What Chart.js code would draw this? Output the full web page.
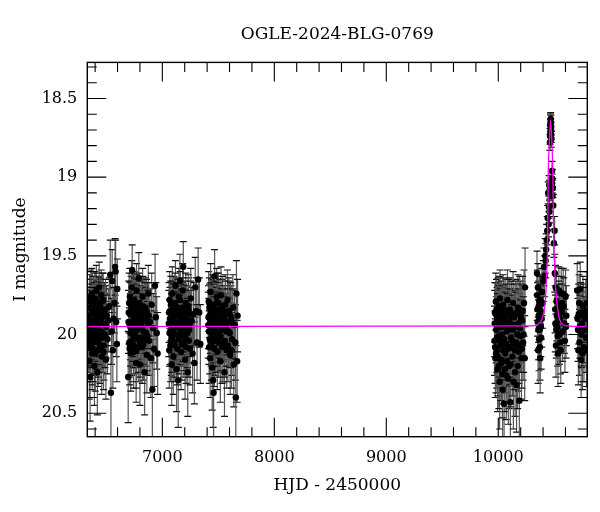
<!DOCTYPE html>
<html>
<head>
<meta charset="utf-8">
<title>OGLE-2024-BLG-0769</title>
<script src="https://cdn.jsdelivr.net/npm/chart.js@4.4.1/dist/chart.umd.min.js"></script>
<style>
  html, body { margin: 0; padding: 0; background: #fff; }
  #lc { display: block; }
</style>
</head>
<body>
<canvas id="lc" width="600" height="512"></canvas>
<script>
// [HJD-2450000, I mag, error]
const season2013 = [
  [6342,20.02,0.22],[6345,19.88,0.18],[6348,20.17,0.24],[6351,19.79,0.17],[6355,20.27,0.28],[6358,19.95,0.20],
  [6362,20.08,0.22],[6366,19.84,0.19],[6370,19.74,0.16],[6374,20.12,0.23],[6378,19.92,0.20],[6382,20.05,0.21],
  [6386,19.81,0.18],[6390,19.98,0.20],[6394,20.20,0.25],[6398,19.77,0.17],[6402,19.90,0.19],[6407,20.04,0.22],
  [6411,19.72,0.16],[6415,19.86,0.18],[6420,20.24,0.27],[6424,19.96,0.21],[6428,20.10,0.23],[6432,19.80,0.17],
  [6436,19.70,0.16],[6440,19.93,0.20],[6445,20.01,0.21],[6450,19.83,0.18],[6454,19.75,0.16],[6459,20.14,0.24],
  [6463,19.89,0.19],[6468,19.99,0.21],[6472,19.78,0.17],[6478,20.07,0.22],[6484,19.85,0.18],[6490,19.94,0.20],
  [6496,20.16,0.25],[6502,19.88,0.19],[6510,20.03,0.22],[6518,19.91,0.20],[6526,19.82,0.18],[6535,19.62,0.22],
  [6541,20.37,0.30],[6546,19.98,0.21],[6552,19.66,0.20],[6558,20.10,0.24],[6565,19.90,0.20],[6572,19.80,0.19],
  [6578,19.57,0.18],[6583,19.60,0.20],[6588,19.92,0.22],[6594,20.06,0.24],[6598,19.71,0.19],
  [6344,19.97,0.20],[6349,19.83,0.18],[6353,20.06,0.22],[6357,19.91,0.19],[6361,19.76,0.17],[6365,20.00,0.21],
  [6369,19.87,0.19],[6373,19.95,0.20],[6377,20.09,0.23],[6381,19.81,0.18],[6385,19.93,0.20],[6389,20.03,0.22],
  [6393,19.86,0.19],[6397,19.96,0.20],[6401,20.12,0.24],[6405,19.78,0.17],[6409,19.92,0.20],[6413,20.01,0.21],
  [6417,19.84,0.18],[6422,19.97,0.20],[6426,19.89,0.19],[6430,20.05,0.22],[6434,19.94,0.20],[6438,19.82,0.18],
  [6443,20.08,0.23],[6447,19.90,0.19],[6452,19.98,0.21],[6457,19.86,0.19],[6461,20.02,0.22],[6466,19.79,0.18],
  [6470,19.93,0.20],[6475,20.11,0.24],[6481,19.88,0.19],[6487,20.00,0.21],[6493,19.84,0.19],[6499,19.95,0.20]
]
const season2014 = [
  [6695,20.27,0.29],[6700,19.86,0.20],[6705,20.05,0.22],[6710,19.76,0.18],[6714,19.95,0.21],[6718,20.12,0.24],
  [6722,19.82,0.19],[6727,19.70,0.17],[6731,19.59,0.16],[6735,20.00,0.21],[6739,19.88,0.20],[6744,20.11,0.23],
  [6748,19.78,0.18],[6752,19.93,0.20],[6757,20.03,0.22],[6761,19.84,0.19],[6766,20.18,0.25],[6770,19.72,0.17],
  [6775,19.97,0.21],[6780,19.90,0.20],[6785,20.08,0.22],[6790,19.64,0.16],[6795,19.80,0.19],[6800,20.19,0.26],
  [6806,19.94,0.21],[6812,20.02,0.22],[6818,19.85,0.19],[6824,19.76,0.18],[6830,20.06,0.23],[6836,19.91,0.20],
  [6842,20.24,0.27],[6848,19.83,0.19],[6855,19.99,0.21],[6862,20.13,0.24],[6868,19.87,0.20],[6875,19.74,0.18],
  [6882,20.04,0.22],[6890,19.92,0.21],[6898,20.15,0.25],[6905,19.81,0.20],[6911,20.35,0.32],[6918,19.96,0.22],
  [6926,20.09,0.24],[6935,19.69,0.20],[6942,19.89,0.22],[6950,19.99,0.23],[6958,20.12,0.26],
  [6698,19.92,0.20],[6703,19.80,0.19],[6708,20.09,0.23],[6712,19.87,0.20],[6716,19.99,0.21],[6720,19.85,0.19],
  [6725,20.04,0.22],[6729,19.93,0.20],[6733,19.79,0.18],[6737,19.96,0.21],[6742,20.07,0.23],[6746,19.90,0.20],
  [6750,19.83,0.19],[6755,20.00,0.21],[6759,19.94,0.20],[6764,19.81,0.19],[6768,20.10,0.24],[6773,19.88,0.20],
  [6778,19.97,0.21],[6783,19.84,0.19],[6788,20.02,0.22],[6793,19.92,0.20],[6798,19.86,0.20],[6803,20.05,0.22],
  [6809,19.89,0.20],[6815,19.95,0.21],[6821,20.08,0.23],[6827,19.82,0.19],[6833,19.98,0.21],[6839,19.87,0.20],
  [6845,20.03,0.22],[6852,19.91,0.21],[6859,19.85,0.20],[6866,20.01,0.22],[6872,19.93,0.21],[6879,19.88,0.21]
]
const season2015 = [
  [7058,19.93,0.21],[7062,20.10,0.24],[7066,19.78,0.18],[7070,19.98,0.21],[7075,19.85,0.19],[7080,20.04,0.22],
  [7084,20.19,0.26],[7089,19.74,0.17],[7093,19.90,0.20],[7098,20.14,0.24],[7102,19.81,0.18],[7107,19.96,0.21],
  [7112,20.07,0.23],[7117,19.69,0.16],[7122,19.88,0.20],[7127,20.22,0.27],[7132,19.83,0.19],[7137,19.95,0.21],
  [7142,20.29,0.30],[7147,19.76,0.18],[7152,20.01,0.22],[7157,19.66,0.17],[7162,19.92,0.20],[7167,20.11,0.24],
  [7172,19.86,0.19],[7177,19.99,0.21],[7182,19.72,0.17],[7187,19.57,0.16],[7192,20.05,0.22],[7197,19.89,0.20],
  [7203,20.16,0.25],[7209,19.80,0.19],[7215,20.03,0.22],[7221,19.94,0.21],[7227,20.24,0.28],[7234,19.84,0.20],
  [7240,19.97,0.21],[7247,20.09,0.23],[7254,19.77,0.19],[7262,19.91,0.21],[7270,20.12,0.25],[7278,19.87,0.20],
  [7286,20.18,0.26],[7294,19.70,0.19],[7302,19.85,0.21],[7310,20.05,0.24],[7320,19.65,0.20],[7330,19.86,0.22],
  [7340,20.06,0.25],
  [7060,19.86,0.19],[7064,19.99,0.21],[7068,19.90,0.20],[7072,20.07,0.23],[7077,19.81,0.18],[7082,19.94,0.20],
  [7086,20.02,0.22],[7091,19.85,0.19],[7095,19.97,0.21],[7100,19.88,0.20],[7105,20.05,0.22],[7110,19.92,0.20],
  [7114,19.80,0.19],[7119,20.00,0.21],[7124,19.87,0.20],[7129,19.95,0.21],[7134,20.09,0.23],[7139,19.84,0.19],
  [7144,19.93,0.20],[7149,20.03,0.22],[7154,19.89,0.20],[7159,19.78,0.18],[7164,19.98,0.21],[7169,19.91,0.20],
  [7174,20.06,0.23],[7179,19.83,0.19],[7185,19.96,0.21],[7190,19.88,0.20],[7195,20.01,0.22],[7200,19.92,0.21],
  [7206,19.86,0.20],[7212,20.08,0.23],[7218,19.90,0.21],[7224,19.99,0.22],[7231,19.82,0.20],[7237,20.04,0.23],
  [7244,19.93,0.21],[7251,19.87,0.21]
]
const season2016 = [
  [7410,19.94,0.21],[7414,19.79,0.19],[7418,20.08,0.23],[7422,19.88,0.20],[7427,20.15,0.25],[7431,19.73,0.18],
  [7436,19.99,0.21],[7440,19.84,0.19],[7445,20.21,0.27],[7449,19.91,0.20],[7454,20.29,0.30],[7458,20.37,0.32],
  [7463,19.82,0.19],[7467,19.63,0.17],[7472,19.96,0.21],[7476,20.04,0.22],[7481,19.86,0.20],[7486,19.76,0.18],
  [7491,20.11,0.24],[7496,19.93,0.21],[7501,19.80,0.19],[7507,20.02,0.22],[7512,19.89,0.20],[7518,20.17,0.26],
  [7524,19.75,0.18],[7530,19.97,0.21],[7536,19.85,0.20],[7542,20.07,0.23],[7548,19.92,0.21],[7555,20.24,0.28],
  [7562,19.81,0.19],[7568,19.95,0.21],[7575,20.10,0.24],[7582,19.78,0.19],[7590,19.98,0.22],[7598,19.87,0.21],
  [7606,20.13,0.25],[7614,19.90,0.21],[7622,20.03,0.23],[7630,19.83,0.21],[7638,20.19,0.27],[7646,19.94,0.22],
  [7652,20.05,0.24],[7656,20.40,0.33],[7662,19.74,0.21],[7668,20.17,0.26],[7672,19.88,0.23],
  [7412,19.89,0.20],[7416,19.98,0.21],[7420,19.83,0.19],[7424,20.03,0.22],[7429,19.92,0.20],[7433,19.86,0.19],
  [7438,20.06,0.23],[7442,19.95,0.21],[7447,19.81,0.19],[7451,20.00,0.21],[7456,19.88,0.20],[7461,19.97,0.21],
  [7465,20.09,0.24],[7470,19.85,0.19],[7474,19.93,0.20],[7479,20.02,0.22],[7484,19.90,0.20],[7489,19.80,0.19],
  [7494,19.99,0.21],[7499,19.87,0.20],[7504,20.05,0.22],[7510,19.94,0.21],[7515,19.84,0.19],[7521,20.01,0.22],
  [7527,19.91,0.20],[7533,20.08,0.23],[7539,19.82,0.19],[7545,19.96,0.21],[7551,19.89,0.20],[7558,20.04,0.23],
  [7565,19.86,0.20],[7572,19.98,0.22],[7579,19.92,0.21],[7586,20.07,0.23],[7594,19.85,0.21],[7602,19.99,0.22],
  [7610,19.88,0.21],[7618,20.10,0.24],[7626,19.93,0.22]
]
const season2023 = [
  [9966,20.04,0.22],[9970,19.86,0.19],[9974,20.15,0.25],[9978,19.79,0.18],[9982,19.97,0.21],[9986,20.10,0.24],
  [9990,19.90,0.20],[9994,20.22,0.27],[9998,19.83,0.19],[10003,20.01,0.22],[10007,19.93,0.21],[10012,20.30,0.30],
  [10016,19.77,0.18],[10021,20.07,0.23],[10025,19.88,0.20],[10030,20.18,0.26],[10034,19.95,0.21],[10039,20.35,0.31],
  [10043,19.81,0.19],[10048,20.05,0.23],[10052,20.44,0.34],[10057,19.91,0.21],[10062,20.12,0.25],[10067,19.85,0.20],
  [10072,20.26,0.28],[10077,19.98,0.22],[10082,19.78,0.19],[10087,20.09,0.24],[10092,19.92,0.21],[10098,20.20,0.27],
  [10103,19.84,0.20],[10108,20.43,0.34],[10114,20.02,0.23],[10120,19.89,0.21],[10126,20.14,0.25],[10132,19.80,0.20],
  [10138,20.06,0.23],[10144,19.94,0.22],[10150,20.24,0.28],[10156,19.87,0.21],[10163,20.32,0.30],[10170,20.00,0.23],
  [10176,19.83,0.21],[10182,20.11,0.25],[10188,20.42,0.33],[10194,19.96,0.22],[10200,19.87,0.21],[10207,20.15,0.26],
  [10214,19.91,0.22],[10222,20.05,0.24],[10230,19.80,0.21],[10236,20.15,0.27],[10239,19.70,0.25],
  [9968,19.93,0.21],[9972,20.08,0.23],[9976,19.87,0.20],[9980,20.12,0.25],[9984,19.84,0.19],[9988,20.02,0.22],
  [9992,19.95,0.21],[9996,20.14,0.25],[10000,19.89,0.20],[10005,20.20,0.27],[10009,19.82,0.19],[10014,20.04,0.23],
  [10018,19.92,0.21],[10023,20.16,0.26],[10027,19.86,0.20],[10032,20.00,0.22],[10036,20.25,0.28],[10041,19.90,0.21],
  [10045,20.10,0.24],[10050,19.84,0.20],[10054,20.03,0.23],[10059,20.22,0.27],[10064,19.94,0.21],[10069,20.06,0.23],
  [10074,19.88,0.20],[10079,20.17,0.26],[10084,19.96,0.22],[10090,20.28,0.29],[10095,19.85,0.20],[10100,20.08,0.24],
  [10106,19.93,0.22],[10111,20.19,0.27],[10117,19.87,0.21],[10123,20.04,0.23],[10129,19.97,0.22],[10135,20.30,0.30],
  [10141,19.89,0.21],[10147,20.10,0.25],[10153,19.95,0.22],[10160,20.05,0.24],[10166,19.86,0.21],[10173,20.20,0.27],
  [10179,19.93,0.22],[10185,20.07,0.24],[10191,19.84,0.21],[10197,20.01,0.23],[10204,19.90,0.22],[10211,20.09,0.25],
  [10218,19.85,0.22],[10226,20.00,0.24]
]
const season2024 = [
  [10346,19.61,0.14],[10350,19.84,0.17],[10354,19.70,0.15],[10358,19.97,0.19],[10361,19.82,0.16],[10364,20.03,0.20],
  [10368,19.90,0.18],[10372,20.08,0.21],[10376,19.78,0.16],[10380,19.95,0.19],[10385,19.86,0.17],[10390,19.73,0.15],
  [10396,19.80,0.16],[10402,19.66,0.13],[10408,19.57,0.12],[10414,19.63,0.13],[10419,19.50,0.11],[10423,19.53,0.11],
  [10428,19.46,0.10],[10432,19.40,0.10],[10437,19.34,0.09],[10441,19.26,0.08],[10446,19.10,0.07],[10452,19.19,0.07],
  [10455,19.05,0.06],[10459,19.08,0.06],[10462,18.78,0.05],[10465,18.72,0.05],[10467,18.65,0.05],[10469,18.68,0.05],
  [10472,18.70,0.05],[10475,18.76,0.05],[10480,18.96,0.06],[10483,19.01,0.06],[10487,19.07,0.06],[10491,19.18,0.07],
  [10497,19.42,0.09],[10503,19.34,0.09],[10505,19.61,0.12],[10508,19.84,0.15],[10512,19.70,0.14],[10518,19.97,0.18],
  [10523,19.88,0.16],[10530,20.01,0.19],[10536,19.91,0.17],[10541,19.72,0.15],[10548,19.85,0.17],[10555,20.05,0.20],
  [10562,19.74,0.16],[10570,19.80,0.17],[10580,19.74,0.16],[10590,19.93,0.19],[10601,19.76,0.17],[10608,19.88,0.19],
  [10463,18.74,0.05],[10466,18.67,0.04],[10468,18.63,0.04],[10470,18.66,0.05],[10473,18.73,0.05],[10481,19.04,0.06],
  [10484,19.12,0.06],[10457,19.22,0.07],[10450,19.30,0.08],
  [10348,19.75,0.16],[10352,19.92,0.18],[10356,20.10,0.21],[10360,19.88,0.17],[10366,19.79,0.16],[10370,19.97,0.19],
  [10374,20.15,0.22],[10378,19.85,0.17],[10383,20.02,0.20],[10388,19.90,0.18],[10510,19.93,0.18],[10515,20.07,0.20],
  [10520,19.79,0.16],[10527,19.95,0.18],[10533,20.12,0.21],[10539,19.83,0.17],[10545,20.00,0.19],[10552,19.90,0.18],
  [10558,20.10,0.21],[10566,19.86,0.18],[10575,19.98,0.19],[10585,19.82,0.18],[10595,20.04,0.20],[10605,19.95,0.20]
]
const season2025 = [
  [10705,19.72,0.17],[10712,19.97,0.20],[10718,19.87,0.19],[10725,20.05,0.21],[10732,19.71,0.17],[10740,20.16,0.24],
  [10748,19.93,0.20],[10756,19.82,0.19],[10765,20.08,0.22],[10775,19.90,0.20],[10785,20.02,0.22],[10792,19.80,0.20],
  [10708,19.90,0.19],[10715,20.10,0.22],[10722,19.80,0.18],[10728,19.95,0.20],[10736,19.86,0.19],[10744,20.00,0.21],
  [10752,20.12,0.23],[10760,19.88,0.20],[10770,19.97,0.21],[10780,19.85,0.20],[10788,20.10,0.23]
]

// model curve
const modelHjd = [6330, 10300, 10378, 10408, 10423, 10432, 10440, 10446, 10455, 10467, 10480, 10488, 10495, 10503, 10512, 10527, 10557, 10615, 10795]
const modelMag = [19.95, 19.945, 19.92, 19.855, 19.76, 19.62, 19.45, 19.0, 18.8, 18.64, 18.8, 19.0, 19.4, 19.55, 19.7, 19.82, 19.92, 19.945, 19.95]

const xTicks = [7000, 8000, 9000, 10000]
const yTicks = [18.5, 19, 19.5, 20, 20.5]
const xRange = [6330, 10795]
const yRange = [18.271, 20.649]

const allPoints = [season2013, season2014, season2015, season2016, season2023, season2024, season2025].flat()

const serif = "'DejaVu Serif', 'Liberation Serif', serif"

// error bars, drawn under the points
const errorBars = {
    id: 'errorBars',
    beforeDatasetsDraw(chart) {
        const {ctx, chartArea: a, scales: {x, y}} = chart
        ctx.save()
        ctx.beginPath()
        ctx.rect(a.left, a.top, a.right - a.left, a.bottom - a.top)
        ctx.clip()
        allPoints.forEach(p => {
            const px = x.getPixelForValue(p[0])
            const y1 = y.getPixelForValue(p[1] - p[2])
            const y2 = y.getPixelForValue(p[1] + p[2])
            ctx.strokeStyle = '#555'
            ctx.lineWidth = 1.2
            ctx.beginPath()
            ctx.moveTo(px, y1)
            ctx.lineTo(px, y2)
            ctx.stroke()
            ctx.strokeStyle = '#111'
            ctx.beginPath()
            ctx.moveTo(px - 3.5, y1); ctx.lineTo(px + 3.5, y1)
            ctx.moveTo(px - 3.5, y2); ctx.lineTo(px + 3.5, y2)
            ctx.stroke()
        })
        ctx.restore()
    }
}

// box and inward ticks on all four sides
const frameTicks = {
    id: 'frameTicks',
    afterDraw(chart) {
        const {ctx, chartArea: a, scales: {x, y}} = chart
        ctx.save()
        ctx.strokeStyle = '#000'
        ctx.lineWidth = 1.4
        ctx.strokeRect(a.left, a.top, a.right - a.left, a.bottom - a.top)
        ctx.lineWidth = 1.1
        ctx.beginPath()
        for (let v = 6400; v <= 10800; v += 200) {
            const px = x.getPixelForValue(v)
            if (px < a.left || px > a.right) continue
            const len = v % 1000 === 0 ? 19 : 9.5
            ctx.moveTo(px, a.bottom); ctx.lineTo(px, a.bottom - len)
            ctx.moveTo(px, a.top); ctx.lineTo(px, a.top + len)
        }
        for (let k = 183; k <= 206; k++) {
            const py = y.getPixelForValue(k / 10)
            if (py < a.top || py > a.bottom) continue
            const len = k % 5 === 0 ? 19 : 9.5
            ctx.moveTo(a.left, py); ctx.lineTo(a.left + len, py)
            ctx.moveTo(a.right, py); ctx.lineTo(a.right - len, py)
        }
        ctx.stroke()
        ctx.restore()
    }
}

document.addEventListener('DOMContentLoaded', () => {
    new Chart(document.getElementById('lc'), {
        type: 'scatter',
        data: {
            datasets: [{
                type: 'line',
                label: 'model',
                data: modelHjd.map((t, i) => ({x: t, y: modelMag[i]})),
                borderColor: '#ff00ff',
                borderWidth: 1.3,
                pointRadius: 0,
                cubicInterpolationMode: 'monotone',
                order: 0,
            }, {
                label: 'OGLE',
                data: allPoints.map(p => ({x: p[0], y: p[1]})),
                backgroundColor: '#000',
                borderColor: '#000',
                pointRadius: 3.2,
                borderWidth: 0,
                order: 1,
            }]
        },
        options: {
            responsive: false,
            animation: false,
            layout: { padding: { left: 0, right: 12.7, top: 0, bottom: 0 } },
            plugins: {
                legend: { display: false },
                tooltip: { enabled: false },
                title: {
                    display: true,
                    fullSize: false,
                    text: 'OGLE-2024-BLG-0769',
                    color: '#000',
                    font: { family: serif, size: 17, weight: 'normal', lineHeight: 1.2 },
                    padding: { top: 24, bottom: 18 },
                },
            },
            scales: {
                x: {
                    type: 'linear',
                    min: xRange[0],
                    max: xRange[1],
                    grid: { display: false, drawTicks: false },
                    border: { display: false },
                    afterBuildTicks: s => { s.ticks = xTicks.map(v => ({value: v})) },
                    afterFit: s => { s.height = 75.3 },
                    ticks: {
                        color: '#000',
                        padding: 12,
                        maxRotation: 0,
                        font: { family: serif, size: 16 },
                        callback: v => String(v),
                    },
                    title: {
                        display: true,
                        text: 'HJD - 2450000',
                        color: '#000',
                        font: { family: serif, size: 17 },
                        padding: { top: 0, bottom: 16.5 },
                    },
                },
                y: {
                    type: 'linear',
                    reverse: true,
                    min: yRange[0],
                    max: yRange[1],
                    grid: { display: false, drawTicks: false },
                    border: { display: false },
                    afterBuildTicks: s => { s.ticks = yTicks.map(v => ({value: v})) },
                    afterFit: s => { s.width = 87.3 },
                    ticks: {
                        color: '#000',
                        padding: 10,
                        font: { family: serif, size: 16 },
                        callback: v => String(v),
                    },
                    title: {
                        display: true,
                        text: 'I magnitude',
                        color: '#000',
                        font: { family: serif, size: 17 },
                        padding: { top: 10, bottom: 0 },
                    },
                },
            },
        },
        plugins: [errorBars, frameTicks],
    })
})
</script>
</body>
</html>
